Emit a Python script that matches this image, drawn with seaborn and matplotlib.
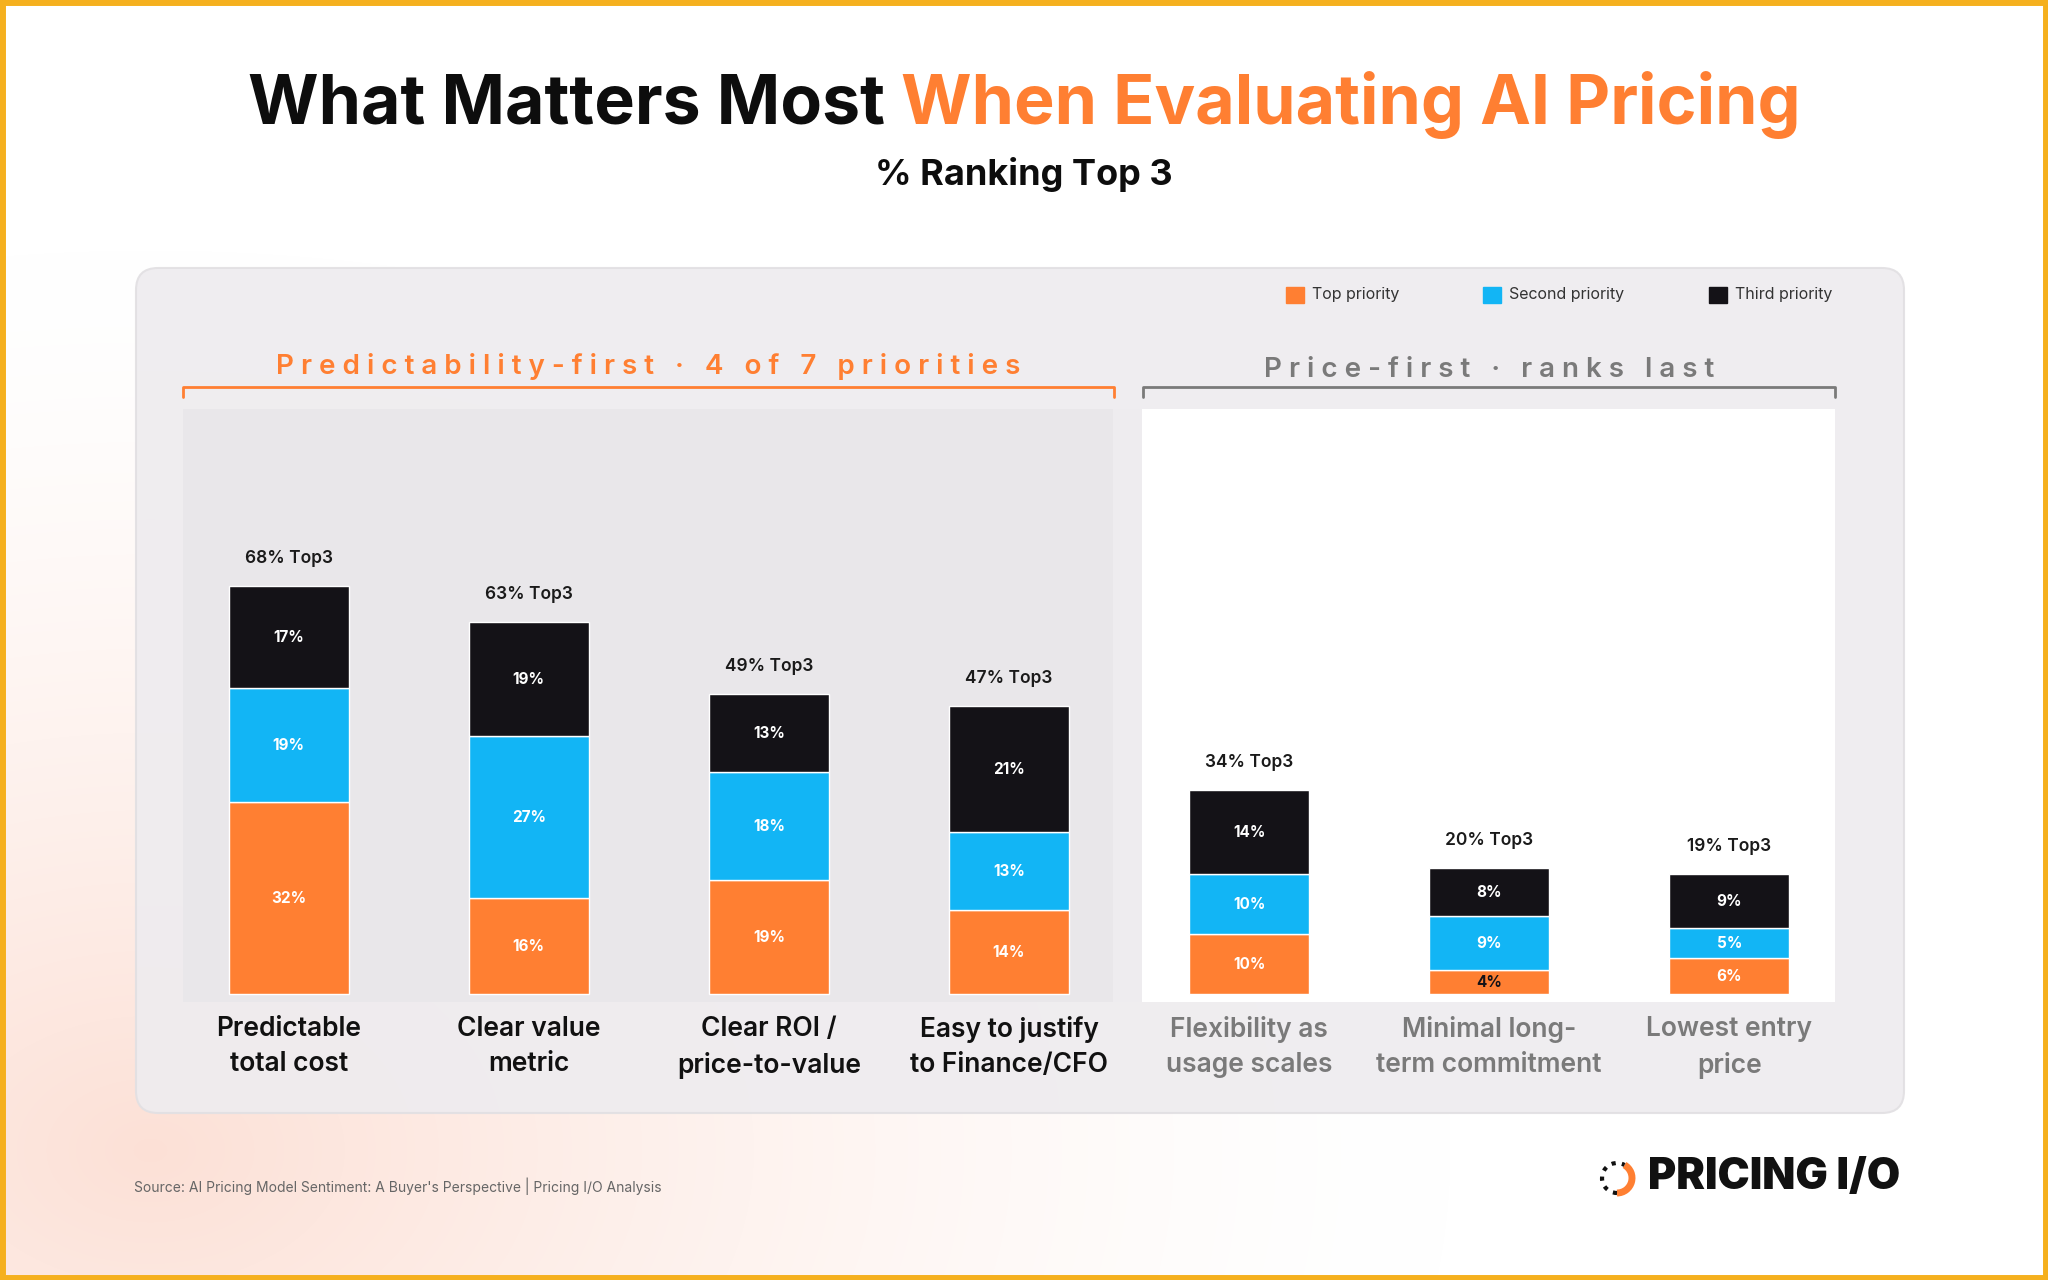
import numpy as np
import matplotlib
matplotlib.use("Agg")
import matplotlib.pyplot as plt
import seaborn as sns
from matplotlib.patches import FancyBboxPatch, Rectangle, Arc

sns.set_theme(style="white")
plt.rcParams['font.family'] = ['Inter', 'DejaVu Sans']

categories = ["Predictable\ntotal cost", "Clear value\nmetric", "Clear ROI /\nprice-to-value",
              "Easy to justify\nto Finance/CFO", "Flexibility as\nusage scales",
              "Minimal long-\nterm commitment", "Lowest entry\nprice"]
top_vals = [32, 16, 19, 14, 10, 4, 6]
second_vals = [19, 27, 18, 13, 10, 9, 5]
third_vals = [17, 19, 13, 21, 14, 8, 9]
totals = [68, 63, 49, 47, 34, 20, 19]
series_names = ["Top priority", "Second priority", "Third priority"]
colors = ["#FF7F32", "#12B5F5", "#141217"]

W, H = 2048, 1280
fig = plt.figure(figsize=(W/100, H/100), dpi=100)

# background
bg = fig.add_axes([0, 0, 1, 1])
yy, xx = np.mgrid[0:H, 0:W]
d = np.sqrt(((xx - 150) / 1300.0) ** 2 + ((yy - 1150) / 900.0) ** 2)
t = np.clip(1 - d, 0, 1) ** 1.5
base = np.array([1.0, 1.0, 1.0])
peach = np.array([0.99, 0.88, 0.84])
img = base[None, None, :] * (1 - t[..., None]) + peach[None, None, :] * t[..., None]
bg.imshow(img, extent=[0, W, H, 0], aspect='auto')
bg.set_xlim(0, W); bg.set_ylim(H, 0); bg.axis('off')
bg.add_patch(Rectangle((2, 2), W-4, H-4, fill=False, ec="#F5B01E", lw=5))
bg.add_patch(FancyBboxPatch((136, 268), 1768, 845, boxstyle="round,pad=0,rounding_size=22",
                            fc="#EEECEF", ec="#E2E0E3", lw=1.5, alpha=0.93))

# title
t1 = bg.text(0, 105, "What Matters Most ", fontsize=49, fontweight="bold", color="#0D0D0D", va="center")
t2 = bg.text(0, 105, "When Evaluating AI Pricing", fontsize=49, fontweight="bold", color="#FF7F32", va="center")
fig.canvas.draw()
r = fig.canvas.get_renderer()
w1 = t1.get_window_extent(r).width
w2 = t2.get_window_extent(r).width
x0 = (W - w1 - w2) / 2
t1.set_x(x0); t2.set_x(x0 + w1)
bg.text(W/2, 174, "% Ranking Top 3", fontsize=26, fontweight="bold", color="#0D0D0D", ha="center", va="center")

# legend
for i, (lx, name) in enumerate(zip([1286, 1483, 1709], series_names)):
    bg.add_patch(Rectangle((lx, 287), 18, 16, color=colors[i]))
    bg.text(lx + 26, 295, name, fontsize=11.5, color="#333", va="center")

# chart axes
ax = fig.add_axes([183/W, 1 - 1002/H, (1835-183)/W, (1002-409)/H])
ax.set_xlim(-0.44, 6.44)
ax.set_ylim(-1.3, 97.6)
ax.set_facecolor("white")
ax.axvspan(-0.44, 3.435, color="#E9E7EA", zorder=0, lw=0)
ax.axvspan(3.435, 3.554, color="#EEECEF", zorder=0, lw=0)

x = np.arange(len(categories))
bottom = np.zeros(len(categories))
for vals, c in zip([top_vals, second_vals, third_vals], colors):
    sns.barplot(x=x, y=vals, bottom=bottom, color=c, width=0.5, ax=ax, native_scale=True,
                saturation=1, zorder=2)
    for xi, v, b in zip(x, vals, bottom):
        tc = "white" if v >= 5 else "#141217"
        ax.text(xi, b + v/2, f"{v}%", ha="center", va="center", fontsize=11,
                fontweight="bold", color=tc, zorder=3)
    bottom = bottom + np.array(vals)
for xi, tot, b in zip(x, totals, bottom):
    ax.text(xi, b + 3.2, f"{tot}% Top3", ha="center", va="bottom", fontsize=12.5,
            fontweight="semibold", color="#1A1A1A")
ax.set_xticks([]); ax.set_yticks([])
ax.set_xlabel(""); ax.set_ylabel("")
for s in ax.spines.values():
    s.set_visible(False)

# category labels
for xi, cat in zip(x, categories):
    col = "#111111" if xi < 4 else "#7A7A7A"
    ax.annotate(cat, (xi, 0), xytext=(0, -22), textcoords="offset pixels", ha="center", va="top",
                fontsize=19, fontweight="semibold", color=col, linespacing=1.45, annotation_clip=False)

# brackets
def spaced(s):
    return "   ".join(" ".join(w) for w in s.split(" "))
def bracket(xa, xb, y, col, label, ly):
    bg.plot([xa, xa, xb, xb], [y + 10, y, y, y + 10], color=col, lw=2)
    bg.text((xa + xb) / 2, ly, label, ha="center", va="center", fontsize=20, color=col,
            fontweight="semibold")
bracket(183, 1114, 387, "#FF7F32", spaced("Predictability-first · 4 of 7 priorities"), 366)
bracket(1143, 1835, 387, "#7A7A7A", spaced("Price-first · ranks last"), 370)

# footer
bg.text(134, 1186, "Source: AI Pricing Model Sentiment: A Buyer's Perspective | Pricing I/O Analysis",
        fontsize=10, color="#666", va="center")
bg.text(1648, 1178, "PRICING I/O", fontsize=31, fontweight="black", color="#111", va="center")
bg.add_patch(Arc((1617, 1178), 30, 30, theta1=-60, theta2=90, color="#FF7F32", lw=5))
bg.add_patch(Arc((1617, 1178), 30, 30, theta1=90, theta2=300, color="#111", lw=3, ls=(0, (1, 1.5))))

fig.savefig("out.png", dpi=100)
